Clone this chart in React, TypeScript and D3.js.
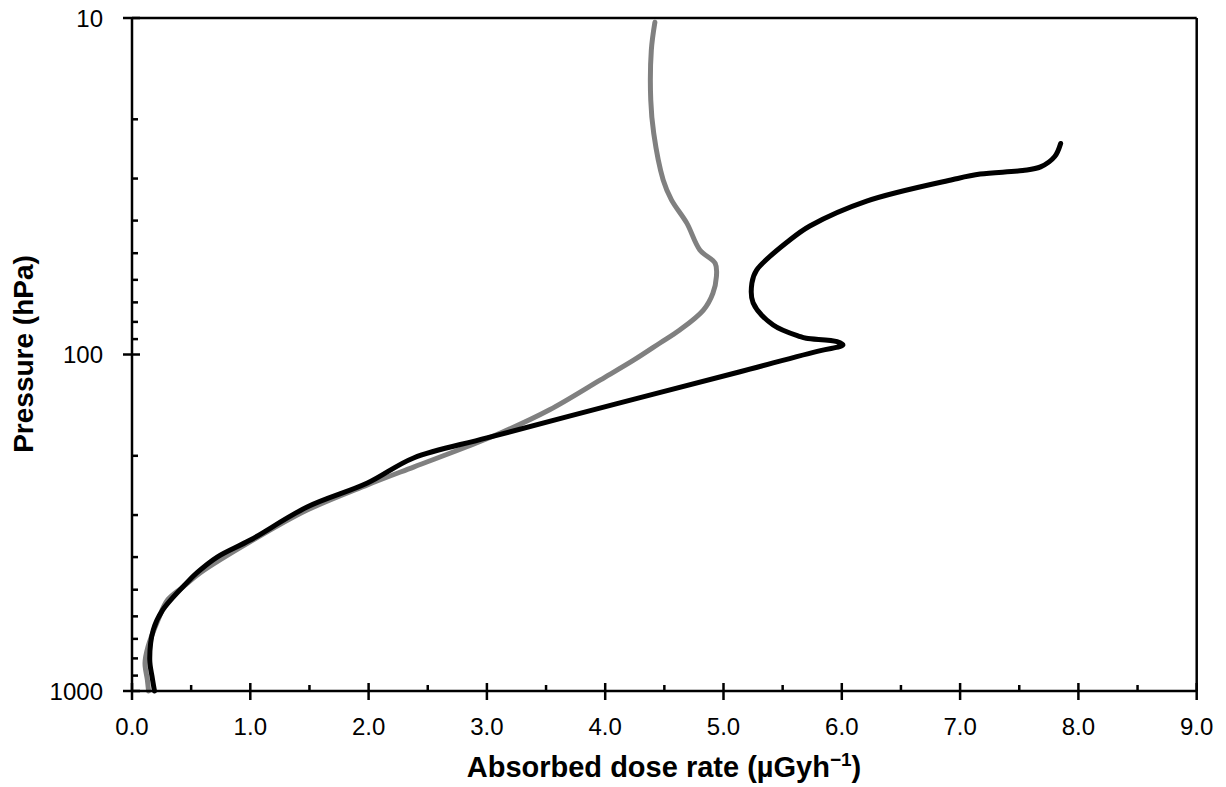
import React from "react";
import * as d3 from "d3";

// Black series: absorbed dose rate (µGy/h) vs pressure (hPa)
const blackDose = [0.19, 0.17, 0.15, 0.18, 0.26, 0.47, 0.55, 0.72, 1.0, 1.48, 1.99, 2.38, 3.0, 4.1, 5.14, 5.82, 5.98, 6.01, 5.96, 5.7, 5.65, 5.42, 5.25, 5.24, 5.28, 5.56, 5.73, 6.21, 6.94, 7.17, 7.53, 7.68, 7.8, 7.85];
const blackPressure = [1000, 908, 809, 658, 574, 474, 445, 400, 356, 284, 241, 203, 177, 140, 112.5, 97.4, 94.8, 93.7, 91.6, 89.5, 88.5, 81.7, 70.2, 61.4, 56.1, 45.7, 41.5, 35.0, 30.2, 29.1, 28.4, 27.7, 25.8, 23.6];

// Gray series
const grayDose = [0.14, 0.13, 0.11, 0.135, 0.22, 0.3, 0.43, 0.575, 1.0, 1.48, 1.99, 2.38, 2.83, 3.11, 3.53, 3.96, 4.24, 4.46, 4.63, 4.83, 4.91, 4.94, 4.93, 4.8, 4.69, 4.56, 4.49, 4.41, 4.385, 4.39, 4.42];
const grayPressure = [1000, 927, 826, 740, 615, 537, 491, 446, 360, 290, 244, 216, 188, 171.5, 146, 119, 104, 92.6, 84.6, 73.8, 65.8, 58.7, 53.6, 48.9, 40.7, 34.7, 30.3, 22.0, 17.5, 12.45, 10.3];

const xTicks = [0, 1, 2, 3, 4, 5, 6, 7, 8, 9];
const xMinorTicks = [0.5, 1.5, 2.5, 3.5, 4.5, 5.5, 6.5, 7.5, 8.5];
const yTicks = [10, 100, 1000];
const yMinorTicks = [20, 30, 40, 50, 60, 70, 80, 90, 200, 300, 400, 500, 600, 700, 800, 900];

const W = 1226;
const H = 787;
const left = 132;
const right = 1196.7;
const top = 18;
const bottom = 691;

export default function App() {
  const x = d3.scaleLinear().domain([0, 9]).range([left, right]);
  const y = d3.scaleLog().domain([10, 1000]).range([top, bottom]);

  const line = d3
    .line<[number, number]>()
    .x((d) => x(d[0]))
    .y((d) => y(d[1]))
    .curve(d3.curveCatmullRom.alpha(0.5));

  const blackData: [number, number][] = blackDose.map((v, i) => [v, blackPressure[i]]);
  const grayData: [number, number][] = grayDose.map((v, i) => [v, grayPressure[i]]);

  const font = "Arial, 'Liberation Sans', sans-serif";

  return (
    <svg
      width={W}
      height={H}
      style={{ position: "absolute", left: 0, top: 0, background: "#fff" }}
      fontFamily={font}
    >
      <rect x={0} y={0} width={W} height={H} fill="#fff" />
      {/* curves */}
      <path d={line(grayData) || ""} fill="none" stroke="#808080" strokeWidth={5} strokeLinejoin="round" strokeLinecap="round" />
      <path d={line(blackData) || ""} fill="none" stroke="#000" strokeWidth={5} strokeLinejoin="round" strokeLinecap="round" />

      {/* frame */}
      <line x1={left} y1={top} x2={right} y2={top} stroke="#000" strokeWidth={2.5} />
      <line x1={right} y1={top} x2={right} y2={bottom} stroke="#000" strokeWidth={2.5} />
      <line x1={left} y1={top} x2={left} y2={bottom} stroke="#000" strokeWidth={2.5} />
      <line x1={left} y1={bottom} x2={right} y2={bottom} stroke="#000" strokeWidth={2.5} />

      {/* x ticks */}
      {xTicks.map((t) => (
        <g key={"xt" + t}>
          <line x1={x(t)} x2={x(t)} y1={bottom - 8} y2={bottom + 9} stroke="#000" strokeWidth={2.5} />
          <text x={x(t)} y={735} textAnchor="middle" fontSize={24} fill="#000">
            {d3.format(".1f")(t)}
          </text>
        </g>
      ))}
      {xMinorTicks.map((t) => (
        <line key={"xm" + t} x1={x(t)} x2={x(t)} y1={bottom - 6} y2={bottom} stroke="#000" strokeWidth={2.5} />
      ))}

      {/* y ticks */}
      {yTicks.map((t) => (
        <g key={"yt" + t}>
          <line x1={left - 9} x2={left + 8} y1={y(t)} y2={y(t)} stroke="#000" strokeWidth={2.5} />
          <text x={103} y={y(t)} dy="0.36em" textAnchor="end" fontSize={24} fill="#000">
            {t}
          </text>
        </g>
      ))}
      {yMinorTicks.map((t) => (
        <line key={"ym" + t} x1={left} x2={left + 6} y1={y(t)} y2={y(t)} stroke="#000" strokeWidth={2.5} />
      ))}

      {/* axis titles */}
      <text x={664} y={777} textAnchor="middle" fontSize={29} fontWeight="bold" fill="#000">
        Absorbed dose rate (µGyh
        <tspan fontSize={19} dy={-11}>−1</tspan>
        <tspan dy={11}>)</tspan>
      </text>
      <text
        transform={`translate(33, 354) rotate(-90)`}
        textAnchor="middle"
        fontSize={28}
        fontWeight="bold"
        fill="#000"
      >
        Pressure (hPa)
      </text>
    </svg>
  );
}
